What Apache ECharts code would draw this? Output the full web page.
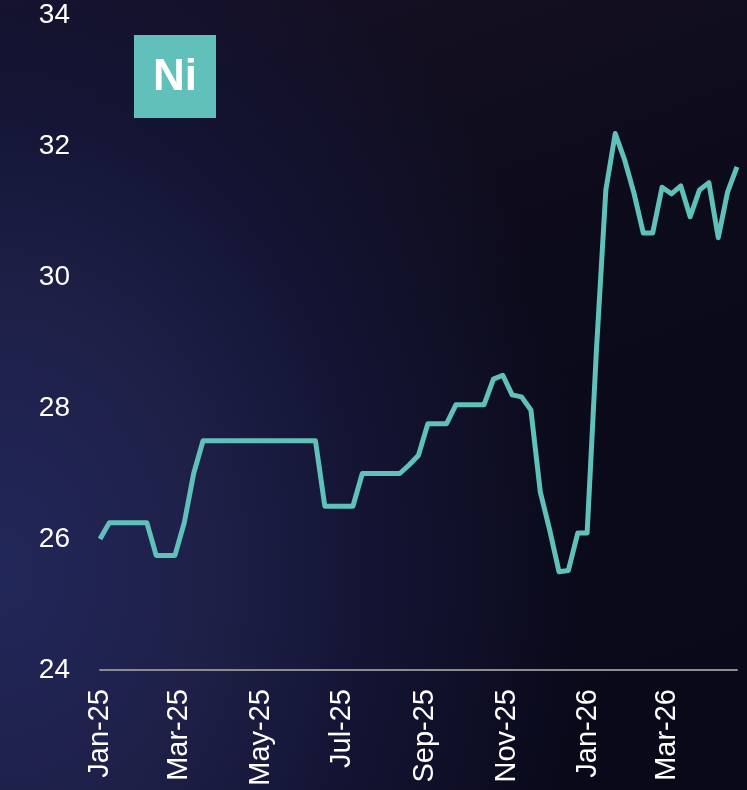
<!DOCTYPE html>
<html>
<head>
<meta charset="utf-8">
<title>Ni</title>
<script src="https://cdn.jsdelivr.net/npm/echarts@6/dist/echarts.min.js"></script>
<style>
  html, body { margin: 0; padding: 0; background: #0a0a18; }
  #chart {
    width: 747px;
    height: 790px;
    background:
      radial-gradient(ellipse 78% 95% at 0% 72%, #22275a 0%, #1e2048 35%, #141535 62%, rgba(10,10,24,0) 100%),
      linear-gradient(160deg, #171024 0%, #0c0b1a 45%, #09091a 100%);
  }
</style>
</head>
<body>
<div id="chart"></div>
<script>
// weekly dates
var dates = [
  '2025-01-01', '2025-01-08', '2025-01-15', '2025-01-22', '2025-01-29',
  '2025-02-05', '2025-02-12', '2025-02-19', '2025-02-26',
  '2025-03-05', '2025-03-12', '2025-03-19', '2025-03-26',
  '2025-04-02', '2025-04-09', '2025-04-16', '2025-04-23', '2025-04-30',
  '2025-05-07', '2025-05-14', '2025-05-21', '2025-05-28',
  '2025-06-04', '2025-06-11', '2025-06-18', '2025-06-25',
  '2025-07-02', '2025-07-09', '2025-07-16', '2025-07-23', '2025-07-30',
  '2025-08-06', '2025-08-13', '2025-08-20', '2025-08-27',
  '2025-09-03', '2025-09-10', '2025-09-17', '2025-09-24',
  '2025-10-01', '2025-10-08', '2025-10-15', '2025-10-22', '2025-10-29',
  '2025-11-05', '2025-11-12', '2025-11-19', '2025-11-26',
  '2025-12-03', '2025-12-10', '2025-12-17', '2025-12-24', '2025-12-31',
  '2026-01-07', '2026-01-14', '2026-01-21', '2026-01-28',
  '2026-02-04', '2026-02-11', '2026-02-18', '2026-02-25',
  '2026-03-04', '2026-03-11', '2026-03-18', '2026-03-25',
  '2026-04-01', '2026-04-08', '2026-04-15', '2026-04-22'
]

var niValues = [
  26.0, 26.25, 26.25, 26.25, 26.25,
  26.25, 25.75, 25.75, 25.75,
  26.25, 27.0, 27.5, 27.5,
  27.5, 27.5, 27.5, 27.5, 27.5,
  27.5, 27.5, 27.5, 27.5,
  27.5, 27.5, 26.5, 26.5,
  26.5, 26.5, 27.0, 27.0, 27.0,
  27.0, 27.0, 27.13, 27.28,
  27.76, 27.76, 27.76, 28.05,
  28.05, 28.05, 28.05, 28.44, 28.5,
  28.2, 28.17, 27.97, 26.72,
  26.14, 25.5, 25.52, 26.09, 26.09,
  28.9, 31.33, 32.19, 31.79,
  31.28, 30.67, 30.67, 31.37,
  31.27, 31.39, 30.92, 31.33,
  31.44, 30.6, 31.3, 31.68
]

// x tick labels (every two months)
var tickDates = ['2025-01-01', '2025-03-01', '2025-05-01', '2025-07-01', '2025-09-01', '2025-11-01', '2026-01-01', '2026-03-01']
var tickLabels = ['Jan-25', 'Mar-25', 'May-25', 'Jul-25', 'Sep-25', 'Nov-25', 'Jan-26', 'Mar-26']

var yTicks = [24, 26, 28, 30, 32, 34]

function toTime(d) {
  return Date.UTC(+d.slice(0, 4), +d.slice(5, 7) - 1, +d.slice(8, 10))
}

var chart = echarts.init(document.getElementById('chart'))

var tickTimes = tickDates.map(toTime)

var option = {
  backgroundColor: 'transparent',
  animation: false,
  grid: {
    left: 100,
    right: 10,
    top: 15,
    bottom: 120
  },
  graphic: [
    {
      type: 'rect',
      left: 134,
      top: 35,
      shape: { width: 82, height: 83 },
      style: { fill: '#61c0b9' }
    },
    {
      type: 'text',
      x: 175,
      y: 78,
      style: {
        text: 'Ni',
        fill: '#ffffff',
        font: 'bold 44px "Liberation Sans", Arial, sans-serif',
        align: 'center',
        verticalAlign: 'middle'
      }
    }
  ],
  xAxis: {
    type: 'value',
    min: toTime(dates[0]),
    max: toTime(dates[dates.length - 1]),
    axisLine: { show: true, onZero: false, lineStyle: { color: '#8c8c8c', width: 2 } },
    axisTick: { show: false },
    splitLine: { show: false },
    axisLabel: {
      customValues: tickTimes,
      rotate: 90,
      margin: 19,
      color: '#ffffff',
      fontSize: 29,
      fontFamily: '"Liberation Sans", Arial, sans-serif',
      formatter: function (val) {
        var i = tickTimes.indexOf(val)
        return i >= 0 ? tickLabels[i] : ''
      }
    }
  },
  yAxis: {
    type: 'value',
    min: yTicks[0],
    max: yTicks[yTicks.length - 1],
    interval: 2,
    axisLine: { show: false },
    axisTick: { show: false },
    splitLine: { show: false },
    axisLabel: {
      margin: 30,
      color: '#ffffff',
      fontSize: 28,
      fontFamily: '"Liberation Sans", Arial, sans-serif'
    }
  },
  series: [
    {
      name: 'Ni',
      type: 'line',
      showSymbol: false,
      smooth: false,
      lineStyle: { color: '#5fc1b9', width: 5, join: 'round' },
      data: dates.map(function (d, i) { return [toTime(d), niValues[i]] })
    }
  ]
}

chart.setOption(option)
</script>
</body>
</html>
